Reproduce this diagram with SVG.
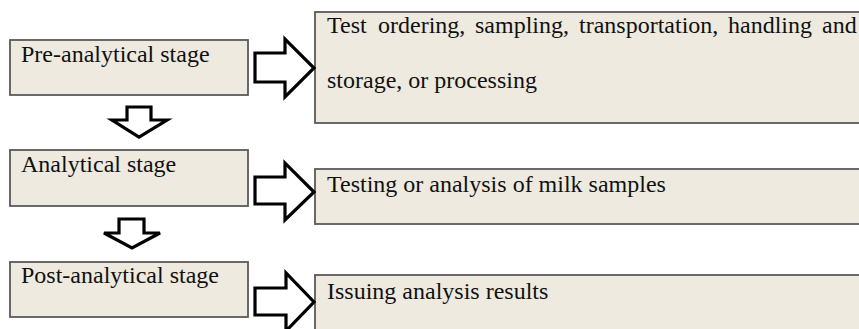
<svg xmlns="http://www.w3.org/2000/svg" width="859" height="329" viewBox="0 0 859 329">
<style>
.box{fill:#EEEADF;stroke:#5a5a5a;stroke-width:1.8}
.t{font-family:"Liberation Serif","Times New Roman",serif;font-size:24px;fill:#111}
.arr{fill:#fff;stroke:#000;stroke-width:3.2;stroke-linejoin:miter}
</style>
<rect width="859" height="329" fill="#fff"/>
<g id="pre">
<rect class="box" x="10" y="40" width="238" height="55"/>
<text class="t" x="21" y="62">Pre-analytical stage</text>
</g>
<g id="ana">
<rect class="box" x="10" y="150" width="238" height="56"/>
<text class="t" x="21" y="172">Analytical stage</text>
</g>
<g id="post">
<rect class="box" x="10" y="262" width="238" height="55"/>
<text class="t" x="21" y="283">Post-analytical stage</text>
</g>
<g id="pre-desc">
<rect class="box" x="315" y="12" width="560" height="111"/>
<text class="t" y="33"><tspan x="327">Test</tspan><tspan x="378">ordering,</tspan><tspan x="475">sampling,</tspan><tspan x="579">transportation,</tspan><tspan x="728">handling</tspan><tspan x="822">and</tspan></text>
<text class="t" x="327" y="88">storage, or processing</text>
</g>
<g id="ana-desc">
<rect class="box" x="315" y="169" width="560" height="55"/>
<text class="t" x="327" y="192">Testing or analysis of milk samples</text>
</g>
<g id="post-desc">
<rect class="box" x="315" y="275" width="560" height="70"/>
<text class="t" x="327" y="299">Issuing analysis results</text>
</g>
<g id="connectors">
<polygon class="arr" points="255,53 285,53 285,39 314,68 285,97 285,82 255,82"/>
<polygon class="arr" points="255,177 285,177 285,163 314,192 285,220 285,204 255,204"/>
<polygon class="arr" points="255,288 286,288 286,273 314,302 286,331 286,315 255,315"/>
<polygon class="arr" points="127,107 151,107 151,120 167,120 139,137 112,120 127,120"/>
<polygon class="arr" points="119,219 144,219 144,233 160,233 132,248 104,233 119,233"/>
</g>
</svg>
